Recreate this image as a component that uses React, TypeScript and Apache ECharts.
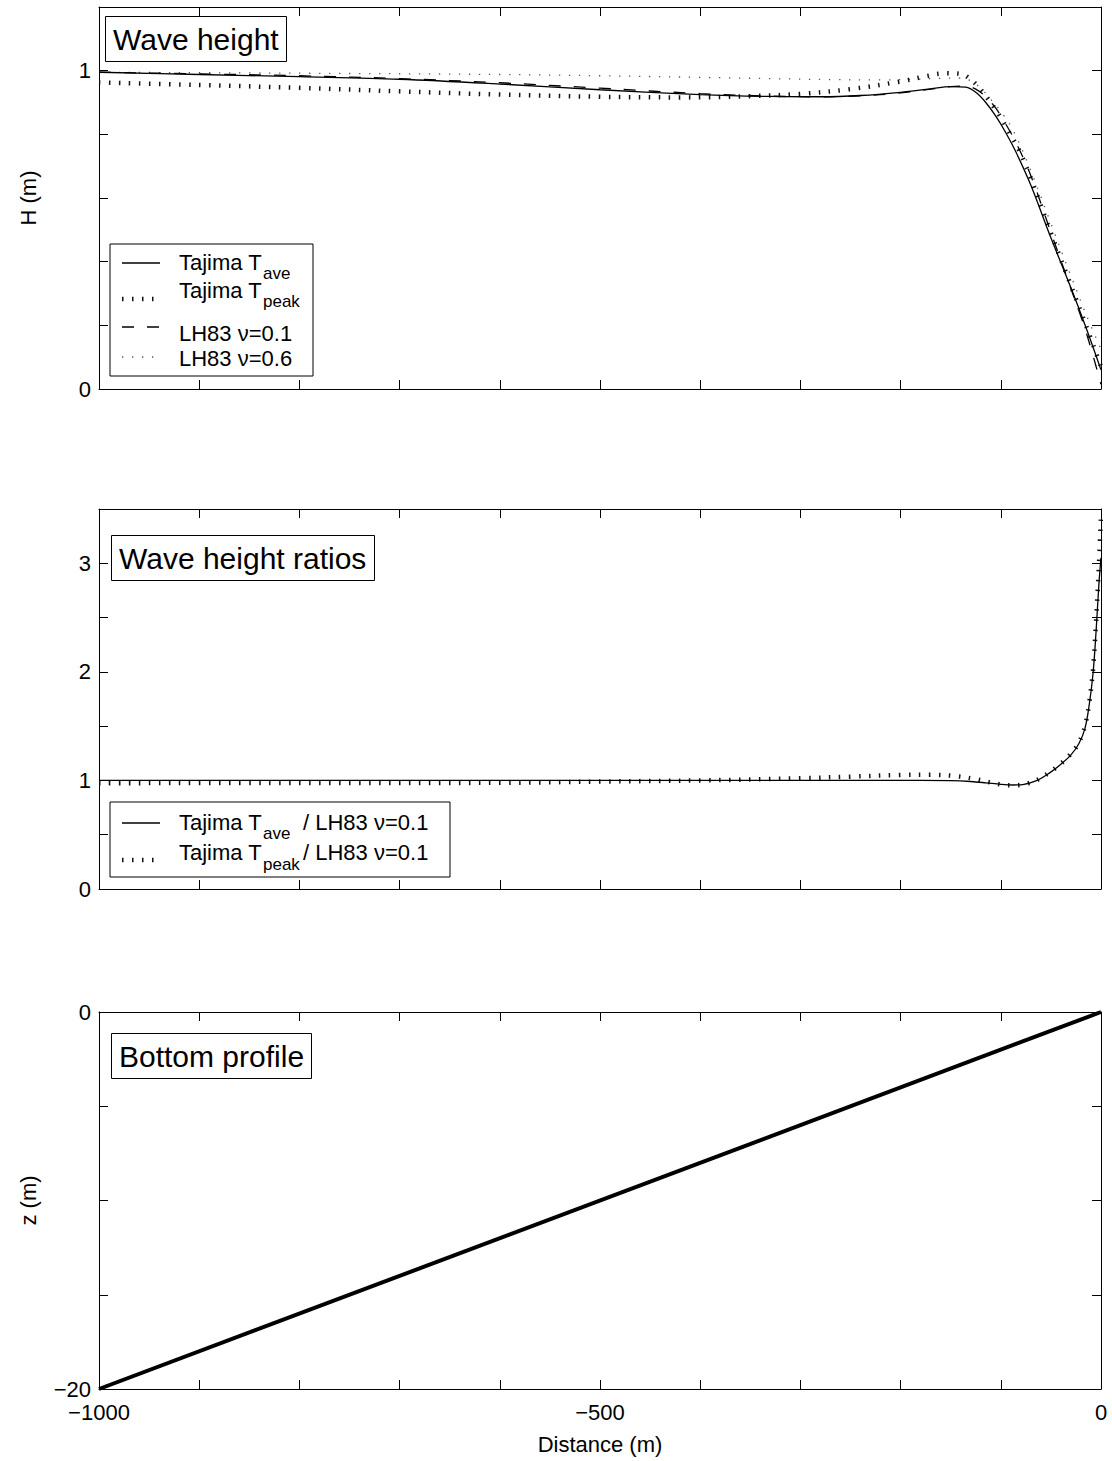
import React, { useEffect, useRef } from 'react';
import * as echarts from 'echarts';

const FONT = '"Liberation Sans", Arial, Helvetica, sans-serif';

// ---- Panel 1: wave height (m) ----
const xTave = [-1000, -900, -800, -700, -600, -500, -400, -330, -280, -240, -200, -170, -150, -135, -125, -115, -105, -95, -85, -70, -50, -30, -15, 0];
const hTave = [0.995, 0.988, 0.981, 0.973, 0.958, 0.940, 0.925, 0.919, 0.918, 0.922, 0.932, 0.943, 0.950, 0.948, 0.932, 0.900, 0.857, 0.805, 0.745, 0.640, 0.475, 0.318, 0.193, 0.06];

const xTpeak = [-1000, -900, -800, -700, -600, -500, -420, -350, -300, -250, -200, -175, -155, -140, -130, -122, -112, -102, -92, -82, -70, -50, -30, -15, 0];
const hTpeak = [0.963, 0.955, 0.946, 0.935, 0.925, 0.918, 0.916, 0.920, 0.927, 0.942, 0.966, 0.982, 0.992, 0.990, 0.972, 0.948, 0.908, 0.862, 0.808, 0.752, 0.662, 0.490, 0.325, 0.200, 0.07];

const xLH01 = [-1000, -900, -800, -700, -600, -500, -400, -330, -280, -240, -200, -170, -150, -135, -125, -115, -105, -95, -85, -70, -50, -30, -15, 0];
const hLH01 = [0.995, 0.990, 0.984, 0.975, 0.962, 0.945, 0.928, 0.920, 0.918, 0.921, 0.930, 0.942, 0.950, 0.952, 0.942, 0.918, 0.882, 0.832, 0.775, 0.670, 0.492, 0.315, 0.180, 0.015];

const xLH06 = [-1000, -800, -600, -500, -400, -330, -270, -220, -185, -160, -142, -130, -120, -110, -100, -88, -70, -50, -30, -15, 0];
const hLH06 = [0.995, 0.992, 0.988, 0.984, 0.979, 0.975, 0.972, 0.971, 0.973, 0.976, 0.977, 0.968, 0.945, 0.910, 0.872, 0.815, 0.685, 0.520, 0.355, 0.235, 0.125];

// ---- Panel 2: wave height ratios ----
const xRatioAve = [-1000, -800, -600, -400, -250, -180, -150, -130, -115, -100, -88, -78, -65, -52, -40, -30, -22, -16, -12, -8, -5, -2, 0];
const rRatioAve = [1.0, 1.0, 1.0, 1.0, 1.0, 1.0, 0.998, 0.99, 0.978, 0.964, 0.958, 0.962, 0.995, 1.065, 1.15, 1.235, 1.34, 1.48, 1.68, 1.98, 2.36, 2.82, 3.05];

const xRatioPeak = [-1000, -800, -600, -500, -400, -300, -250, -200, -170, -145, -125, -110, -98, -88, -78, -65, -52, -40, -30, -22, -16, -12, -8, -5, -2, 0];
const rRatioPeak = [0.975, 0.976, 0.978, 0.99, 1.0, 1.02, 1.035, 1.05, 1.052, 1.04, 1.012, 0.98, 0.96, 0.955, 0.962, 0.998, 1.07, 1.155, 1.245, 1.35, 1.5, 1.7, 2.02, 2.45, 3.0, 3.45];

// ---- Panel 3: bottom profile ----
const xBottom = [-1000, 0];
const zBottom = [-20, 0];

// ---- axis tick labels ----
const xTickLabels = [-1000, -500, 0];
const hTickLabels = [0, 1];
const rTickLabels = [0, 1, 2, 3];
const zTickLabels = [-20, 0];

const zip = (xs: number[], ys: number[]) => xs.map((x, i) => [x, ys[i]]);
const fmt = (v: number) => (v < 0 ? '\u2212' + String(Math.abs(v)) : String(v));
const pick = (list: number[]) => (v: number) => (list.some((t) => Math.abs(t - v) < 1e-9) ? fmt(Math.round(v)) : '');

const GRID_LEFT = 99;
const GRID_W = 1002;
const grids = [
  { left: GRID_LEFT, top: 7, width: GRID_W, height: 382 },
  { left: GRID_LEFT, top: 509, width: GRID_W, height: 380 },
  { left: GRID_LEFT, top: 1012, width: GRID_W, height: 377 },
];

const tick = { show: true, inside: true, length: 9, lineStyle: { color: '#000', width: 1 } };
const line = { show: true, onZero: false, lineStyle: { color: '#000', width: 1 } };
const labelStyle = { color: '#000', fontSize: 22, fontFamily: FONT };

function xAxesFor(gridIndex: number, labels: boolean, name?: string) {
  const base = {
    type: 'value', gridIndex, min: -1000, max: 0, interval: 100,
    axisLine: line, axisTick: tick, splitLine: { show: false },
  };
  return [
    {
      ...base, position: 'bottom',
      axisLabel: { show: labels, formatter: pick(xTickLabels), margin: 12, ...labelStyle },
      name: name || '', nameLocation: 'middle', nameGap: 44,
      nameTextStyle: { ...labelStyle },
    },
    { ...base, position: 'top', axisLabel: { show: false } },
  ];
}

function yAxesFor(gridIndex: number, min: number, max: number, interval: number, labels: number[], name?: string) {
  const base = {
    type: 'value', gridIndex, min, max, interval,
    axisLine: line, axisTick: tick, splitLine: { show: false },
  };
  return [
    {
      ...base, position: 'left',
      axisLabel: { show: true, formatter: pick(labels), margin: 8, ...labelStyle },
      name: name || '', nameLocation: 'middle', nameGap: 60, nameRotate: 90,
      nameTextStyle: { ...labelStyle },
    },
    { ...base, position: 'right', axisLabel: { show: false } },
  ];
}

const solid = { color: '#000', width: 1.3, type: 'solid' };
const thickDots = { color: '#111', width: 4.5, type: [1.5, 8.5], cap: 'butt' };
const dashed = { color: '#000', width: 1.3, type: [12, 13], cap: 'butt' };
const fineDots = { color: '#555', width: 1.3, type: [1.3, 8.7], cap: 'butt' };

function lineSeries(name: string, data: number[][], axis: number, style: any, z = 2) {
  return {
    type: 'line', name, data, xAxisIndex: axis, yAxisIndex: axis,
    showSymbol: false, symbol: 'none', smooth: 0.35, lineStyle: style, z,
    emphasis: { disabled: true }, silent: true,
  };
}

function titleBox(text: string, left: number, top: number) {
  return {
    text, left, top, padding: [8, 8, 8, 8], borderColor: '#000', borderWidth: 1,
    backgroundColor: '#fff',
    textStyle: { fontSize: 30, fontWeight: 'normal', color: '#000', fontFamily: FONT, lineHeight: 30 },
  };
}

function txt(text: string, x: number, y: number, size = 22) {
  return {
    type: 'text', x, y, z: 100, silent: true,
    style: { text, fontSize: size, fontFamily: FONT, fill: '#000', align: 'left', verticalAlign: 'middle' },
  };
}
function sample(y: number, style: any) {
  return {
    type: 'line', z: 100, silent: true,
    shape: { x1: 122, y1: y, x2: 160, y2: y },
    style: { stroke: style.color, lineWidth: style.width, lineDash: Array.isArray(style.type) ? style.type : null, lineCap: 'butt' },
  };
}

const graphic = [
  // legend panel 1
  { type: 'rect', z: 99, silent: true, shape: { x: 110, y: 244, width: 203, height: 132 }, style: { fill: '#fff', stroke: '#000', lineWidth: 1 } },
  sample(263, solid),
  sample(299, thickDots),
  sample(327, dashed),
  sample(357, fineDots),
  txt('Tajima T', 179, 262), txt('ave', 263, 273, 17),
  txt('Tajima T', 179, 290), txt('peak', 263, 301, 17),
  txt('LH83 \u03bd=0.1', 179, 333),
  txt('LH83 \u03bd=0.6', 179, 358),
  // legend panel 2
  { type: 'rect', z: 99, silent: true, shape: { x: 110, y: 802, width: 340, height: 75 }, style: { fill: '#fff', stroke: '#000', lineWidth: 1 } },
  sample(823, solid),
  sample(860, thickDots),
  txt('Tajima T', 179, 822), txt('ave', 263, 833, 17), txt('/ LH83 \u03bd=0.1', 303, 822),
  txt('Tajima T', 179, 852), txt('peak', 263, 864, 17), txt('/ LH83 \u03bd=0.1', 303, 852),
];

const option = {
  animation: false,
  backgroundColor: '#fff',
  title: [
    titleBox('Wave height', 105, 16),
    titleBox('Wave height ratios', 111, 535),
    titleBox('Bottom profile', 111, 1033),
  ],
  grid: grids,
  xAxis: [
    ...xAxesFor(0, false),
    ...xAxesFor(1, false),
    ...xAxesFor(2, true, 'Distance (m)'),
  ],
  yAxis: [
    ...yAxesFor(0, 0, 1.2, 0.2, hTickLabels, 'H (m)'),
    ...yAxesFor(1, 0, 3.5, 0.5, rTickLabels),
    ...yAxesFor(2, -20, 0, 5, zTickLabels, 'z (m)'),
  ],
  series: [
    lineSeries('LH83 ν=0.6', zip(xLH06, hLH06), 0, fineDots, 1),
    lineSeries('Tajima Tpeak', zip(xTpeak, hTpeak), 0, thickDots, 2),
    lineSeries('LH83 ν=0.1', zip(xLH01, hLH01), 0, dashed, 3),
    lineSeries('Tajima Tave', zip(xTave, hTave), 0, solid, 4),
    lineSeries('Tajima Tpeak / LH83 ν=0.1', zip(xRatioPeak, rRatioPeak), 2, thickDots, 2),
    lineSeries('Tajima Tave / LH83 ν=0.1', zip(xRatioAve, rRatioAve), 2, solid, 3),
    { ...lineSeries('Bottom profile', zip(xBottom, zBottom), 4, { color: '#000', width: 4 }, 3), smooth: false },
  ],
  graphic,
};

export default function App() {
  const ref = useRef<HTMLDivElement>(null);
  useEffect(() => {
    document.body.style.margin = '0';
    const chart = echarts.init(ref.current as HTMLDivElement, null, { renderer: 'svg' });
    chart.setOption(option as any);
    return () => chart.dispose();
  }, []);
  return <div ref={ref} style={{ width: 1112, height: 1461 }} />;
}
